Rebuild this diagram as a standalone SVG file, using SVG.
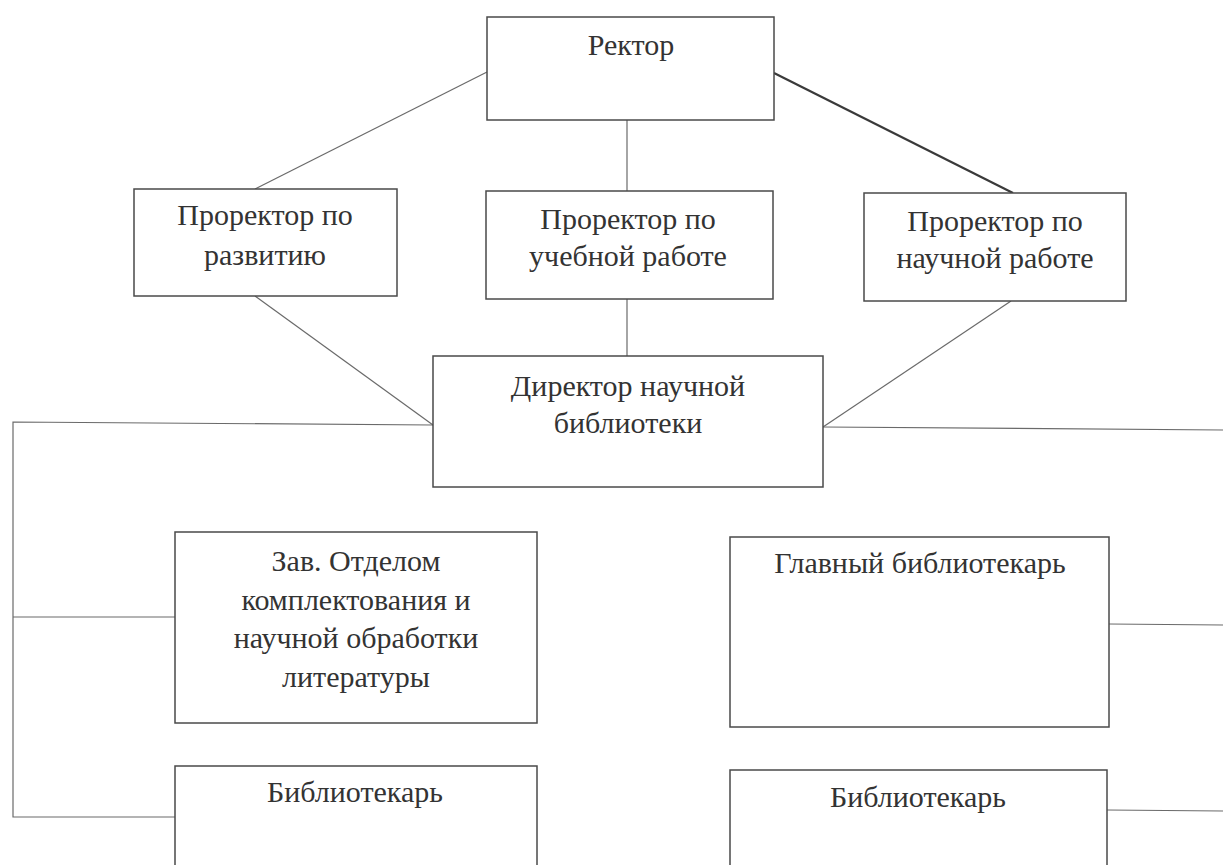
<svg xmlns="http://www.w3.org/2000/svg" width="1223" height="865" viewBox="0 0 1223 865">
<style>
.box{fill:#fff;stroke:#4a4a4a;stroke-width:1.5}
.lbl{font-family:"Liberation Serif","Times New Roman",serif;font-size:30px;fill:#333;text-anchor:middle}
.con{fill:none;stroke:#6a6a6a;stroke-width:1.2}
.con-dark{fill:none;stroke:#3a3a3a;stroke-width:2.2}
</style>
<rect width="1223" height="865" fill="#fff"/>
<g id="connectors">
<line class="con" x1="487" y1="72" x2="255" y2="189"/>
<line class="con" x1="627" y1="120" x2="627" y2="191"/>
<line class="con-dark" x1="774" y1="73" x2="1013" y2="193"/>
<line class="con" x1="255" y1="296" x2="433" y2="425"/>
<line class="con" x1="627" y1="299" x2="627" y2="356"/>
<line class="con" x1="1011" y1="301" x2="823" y2="427"/>
<polyline class="con" points="433,425 13,422 13,817 175,817"/>
<line class="con" x1="13" y1="617" x2="175" y2="617"/>
<line class="con" x1="823" y1="427" x2="1223" y2="430"/>
<line class="con" x1="1109" y1="624" x2="1223" y2="625"/>
<line class="con" x1="1107" y1="810" x2="1223" y2="811"/>
</g>
<g id="rector">
<rect class="box" x="487" y="17" width="287" height="103"/>
<text class="lbl" x="631" y="55">Ректор</text>
</g>
<g id="prorector-dev">
<rect class="box" x="134" y="189" width="263" height="107"/>
<text class="lbl" x="265" y="225">Проректор по</text>
<text class="lbl" x="265" y="265">развитию</text>
</g>
<g id="prorector-edu">
<rect class="box" x="486" y="191" width="287" height="108"/>
<text class="lbl" x="628" y="229">Проректор по</text>
<text class="lbl" x="628" y="266">учебной работе</text>
</g>
<g id="prorector-sci">
<rect class="box" x="864" y="193" width="262" height="108"/>
<text class="lbl" x="995" y="231">Проректор по</text>
<text class="lbl" x="995" y="268">научной работе</text>
</g>
<g id="director">
<rect class="box" x="433" y="356" width="390" height="131"/>
<text class="lbl" x="628" y="396">Директор научной</text>
<text class="lbl" x="628" y="433">библиотеки</text>
</g>
<g id="head-acq">
<rect class="box" x="175" y="532" width="362" height="191"/>
<text class="lbl" x="356" y="571">Зав. Отделом</text>
<text class="lbl" x="356" y="610">комплектования и</text>
<text class="lbl" x="356" y="648">научной обработки</text>
<text class="lbl" x="356" y="687">литературы</text>
</g>
<g id="librarian-left">
<rect class="box" x="175" y="766" width="362" height="110"/>
<text class="lbl" x="355" y="802">Библиотекарь</text>
</g>
<g id="chief-librarian">
<rect class="box" x="730" y="537" width="379" height="190"/>
<text class="lbl" x="920" y="573">Главный библиотекарь</text>
</g>
<g id="librarian-right">
<rect class="box" x="730" y="770" width="377" height="110"/>
<text class="lbl" x="918" y="807">Библиотекарь</text>
</g>
</svg>
